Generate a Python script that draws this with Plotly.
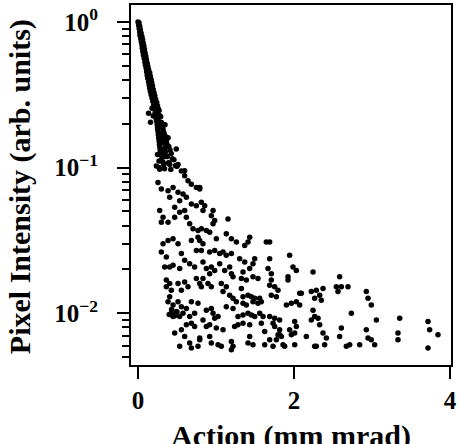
import plotly.graph_objects as go

# ---------------- data ----------------
# dense streak near the origin
streak_action = [0.000,0.012, 0.008,0.022, 0.015,0.030, 0.022,0.040, 0.025,0.050,
                 0.035,0.058, 0.042,0.066, 0.050,0.075, 0.055,0.082, 0.062,0.090,
                 0.070,0.100, 0.080,0.108, 0.088,0.118, 0.095,0.125, 0.105,0.135,
                 0.110,0.150,0.130, 0.118,0.158, 0.125,0.168,0.145, 0.135,0.175,
                 0.142,0.185,0.165, 0.150,0.195, 0.158,0.205,0.180, 0.168,0.215,
                 0.180,0.225,0.200, 0.190,0.240, 0.200,0.250,0.225, 0.210,0.260,
                 0.180,0.220,0.270,0.245, 0.225,0.280, 0.195,0.235,0.290,0.260,
                 0.240,0.300, 0.245,0.310,0.275, 0.250,0.320,0.285, 0.255,0.330,
                 0.260,0.345,0.300, 0.265,0.355,0.310, 0.270,0.365,0.320,
                 0.275,0.380,0.330, 0.280,0.340,0.395, 0.285,0.350,0.410,0.310,
                 0.250,0.300,0.425,0.360, 0.310,0.440,0.375, 0.270,0.320,0.460,0.390,
                 0.330,0.480,0.400, 0.270,0.340,0.500,0.420,
                 0.346,0.385,0.490,0.598,0.135,0.160]
streak_intensity = [1.0,0.985, 0.949,0.935, 0.90,0.885, 0.854,0.84, 0.81,0.795,
                    0.77,0.757, 0.73,0.72, 0.695,0.683, 0.66,0.65, 0.625,0.615,
                    0.59,0.58, 0.56,0.55, 0.53,0.52, 0.505,0.497, 0.48,0.472,
                    0.455,0.447,0.462, 0.43,0.423, 0.41,0.403,0.416, 0.39,0.383,
                    0.37,0.364,0.376, 0.35,0.344, 0.333,0.327,0.339, 0.316,0.311,
                    0.30,0.295,0.305, 0.285,0.280, 0.27,0.265,0.275, 0.256,0.252,
                    0.255,0.239,0.247,0.232, 0.231,0.227, 0.226,0.215,0.223,0.210,
                    0.208,0.204, 0.197,0.194,0.201, 0.187,0.184,0.190, 0.178,0.175,
                    0.169,0.166,0.172, 0.16,0.157,0.163, 0.152,0.15,0.155,
                    0.144,0.142,0.147, 0.137,0.135,0.139, 0.130,0.128,0.132,0.126,
                    0.123,0.121,0.125,0.119, 0.117,0.115,0.119, 0.111,0.109,0.113,0.108,
                    0.105,0.103,0.107, 0.100,0.098,0.102,0.097,
                    0.197,0.16,0.134,0.095,0.236,0.205]

# left part of the spread (action < 0.8)
left_action = [0.235,0.278,0.406,0.513,0.556,0.598,0.641,0.684,0.748,0.791,
               0.256,0.299,0.385,0.449,0.406,0.278,0.321,0.299,0.385,0.470,
               0.534,0.598,0.620,0.662,0.705,0.769,0.769,0.534,0.620,0.684,
               0.748,0.513,0.577,0.470,0.321,0.385,0.449,0.299,0.363,0.406,
               0.342,0.449,0.534,0.598,0.662,0.726,0.556,0.513,0.748,0.684,
               0.363,0.406,0.363,0.427,0.513,0.556,0.598,0.641,0.748,0.791,
               0.406,0.385,0.449,0.513,0.556,0.491,0.427,0.577,0.449,0.534,
               0.620,0.684,0.662,0.726,0.769,0.470,0.556,0.620,0.684,0.726,
               0.598,0.662,0.534,0.769,0.684,0.791,
               0.40,0.47,0.50,0.43]
left_intensity = [0.1026,0.0975,0.105,0.105,0.0949,0.0878,0.0811,0.0770,0.0731,0.0712,
                  0.0791,0.0712,0.0694,0.0731,0.0625,0.0507,0.0456,0.0422,0.0422,0.0456,
                  0.0494,0.0507,0.0456,0.0411,0.0380,0.0370,0.0333,0.0593,0.0625,0.0562,
                  0.0548,0.0676,0.0658,0.0534,0.0300,0.0316,0.0325,0.0263,0.0243,0.0208,
                  0.0208,0.0214,0.0203,0.0231,0.0219,0.0208,0.0257,0.0300,0.0270,0.0316,
                  0.0169,0.0160,0.0152,0.0144,0.0160,0.0144,0.0164,0.0152,0.0173,0.0160,
                  0.0130,0.0120,0.0114,0.0120,0.0111,0.0103,0.0100,0.0100,0.00949,0.00949,
                  0.0108,0.0120,0.00949,0.0100,0.0117,0.00731,0.00770,0.00833,0.00855,0.00811,
                  0.00694,0.00625,0.00593,0.00593,0.00578,0.00676,
                  0.0098,0.0096,0.0102,0.0106]

# middle part of the spread (0.8 < action < 2.3)
mid_action = [0.791,0.812,0.855,0.833,0.962,0.940,0.983,0.962,1.154,0.812,
              0.876,0.919,0.791,0.833,0.812,1.004,1.132,1.197,1.261,1.432,
              1.410,1.368,1.645,0.919,0.983,1.047,1.090,1.132,1.197,1.303,
              1.368,1.496,1.474,1.432,1.688,1.944,0.833,0.876,0.940,0.919,
              0.983,1.047,1.111,1.175,1.197,1.218,1.346,1.325,1.389,1.474,
              1.538,1.667,1.709,1.709,1.688,1.752,1.795,1.987,2.030,1.923,
              1.923,2.244,0.833,0.897,0.940,0.812,1.068,1.132,1.090,1.175,
              1.218,1.261,1.325,1.346,1.410,1.453,1.496,1.560,1.474,1.538,
              1.581,1.346,1.389,1.709,1.774,1.902,1.966,2.030,2.073,2.073,
              2.222,2.265,0.876,0.940,0.962,1.026,0.983,1.132,1.218,1.282,
              1.346,1.410,1.453,1.496,1.560,1.603,1.688,1.752,1.816,1.731,
              2.009,2.030,2.244,2.265,0.833,0.876,0.919,1.004,1.090,1.239,
              1.282,1.346,1.432,1.581,1.624,1.752,1.816,1.795,1.838,1.944,
              1.966,2.009,2.158,0.791,0.919,0.940,1.026,1.068,1.197,1.218,
              1.197,1.410,1.432,1.474,1.624,1.688,1.731,1.880,2.009,2.265]
mid_intensity = [0.0731,0.0578,0.0548,0.0507,0.0507,0.0468,0.0433,0.0411,0.0444,0.0380,
                 0.0370,0.0360,0.0316,0.0300,0.0270,0.0325,0.0351,0.0325,0.0308,0.0333,
                 0.0308,0.0292,0.0308,0.0263,0.0270,0.0257,0.0263,0.0250,0.0257,0.0237,
                 0.0225,0.0237,0.0219,0.0203,0.0237,0.0250,0.0225,0.0203,0.0208,0.0187,
                 0.0197,0.0219,0.0197,0.0208,0.0187,0.0178,0.0192,0.0173,0.0169,0.0178,
                 0.0173,0.0203,0.0187,0.0169,0.0156,0.0152,0.0144,0.0208,0.0197,0.0178,
                 0.0169,0.0192,0.0173,0.0160,0.0152,0.0152,0.0160,0.0152,0.0141,0.0133,
                 0.0127,0.0120,0.0148,0.0130,0.0133,0.0130,0.0127,0.0127,0.0120,0.0117,
                 0.0120,0.0117,0.0114,0.0133,0.0130,0.0114,0.0117,0.0120,0.0114,0.0137,
                 0.0141,0.0127,0.0105,0.0108,0.0100,0.00949,0.00925,0.0111,0.0108,0.00949,
                 0.00975,0.0100,0.00975,0.00949,0.0100,0.00949,0.00949,0.00925,0.00901,0.00855,
                 0.00878,0.00811,0.0105,0.00949,0.00901,0.00811,0.00833,0.00791,0.00770,0.00811,
                 0.00833,0.00855,0.00833,0.00855,0.00750,0.00811,0.00770,0.00712,0.00694,0.00770,
                 0.00712,0.00731,0.00694,0.00658,0.00694,0.00625,0.00609,0.00593,0.00641,0.00593,
                 0.00562,0.00625,0.00694,0.00609,0.00609,0.00658,0.00593,0.00593,0.00609,0.00593]

# right tail (action > 1.6)
right_action = [2.585,2.543,2.607,2.692,2.564,2.927,2.949,2.991,2.372,2.329,
                2.350,2.286,2.735,3.056,3.355,3.718,3.739,3.846,2.308,2.329,
                2.372,2.415,2.393,2.607,2.585,2.927,2.949,2.991,3.333,3.333,
                2.286,2.671,2.714,2.842,3.034,3.718,2.222,1.774,1.816,1.859,
                2.094,1.688]
right_intensity = [0.0178,0.0152,0.0152,0.0152,0.0141,0.0141,0.0127,0.0114,0.0148,0.0133,
                   0.0123,0.0144,0.0100,0.00901,0.00925,0.00878,0.00770,0.00712,0.00925,0.00833,
                   0.00731,0.00676,0.00609,0.00791,0.00694,0.00770,0.00676,0.00658,0.00731,0.00658,
                   0.00593,0.00593,0.00609,0.00609,0.00609,0.00578,0.00901,0.00658,0.00712,0.00609,
                   0.0137,0.0308]

x_tickvals = [0, 2, 4]
x_ticktext = ["0", "2", "4"]
y_tickvals = [1, 0.1, 0.01]
y_ticktext = ["10<sup>0</sup>", "10<sup>\u22121</sup>", "10<sup>\u22122</sup>"]
y_minor = [m * d for d in (0.001, 0.01, 0.1) for m in range(2, 10)]

x_title = "Action (mm mrad)"
y_title = "Pixel Intensity (arb. units)"

# ---------------- figure ----------------
action = streak_action + left_action + mid_action + right_action
intensity = streak_intensity + left_intensity + mid_intensity + right_intensity
n = min(len(action), len(intensity))

FONT = "Liberation Serif"

fig = go.Figure()
fig.add_trace(go.Scatter(
    x=action[:n], y=intensity[:n], mode="markers",
    marker=dict(color="black", size=5.5, symbol="circle", line=dict(width=0)),
    showlegend=False, hoverinfo="skip"))

fig.update_layout(
    width=460, height=444,
    margin=dict(l=131, r=9, t=3, b=79),
    plot_bgcolor="white", paper_bgcolor="white",
    font=dict(family=FONT, color="black"),
    showlegend=False,
)

fig.update_xaxes(
    range=[-0.09, 4.013],
    tickmode="array", tickvals=x_tickvals, ticktext=x_ticktext,
    ticks="outside", ticklen=12, tickwidth=2, tickcolor="black",
    showline=True, linewidth=2, linecolor="black", mirror=True,
    showgrid=False, zeroline=False,
    tickfont=dict(family=FONT, size=25, color="black", weight="bold"),
)
fig.update_yaxes(
    type="log", range=[-2.355, 0.116],
    tickmode="array", tickvals=y_tickvals, ticktext=y_ticktext,
    ticks="outside", ticklen=12, tickwidth=2, tickcolor="black",
    ticklabelstandoff=14,
    minor=dict(tickmode="array", tickvals=y_minor, ticks="outside",
               ticklen=7, tickwidth=1.5, tickcolor="black", showgrid=False),
    showline=True, linewidth=2, linecolor="black", mirror=True,
    showgrid=False, zeroline=False,
    tickfont=dict(family=FONT, size=25, color="black", weight="bold"),
)

fig.add_annotation(
    text=x_title, xref="paper", yref="paper", x=0.5, y=0,
    xanchor="center", yanchor="top", yshift=-52, showarrow=False,
    font=dict(family=FONT, size=30, color="black", weight="bold"))
fig.add_annotation(
    text=y_title, xref="paper", yref="paper", x=0, y=0.494,
    xanchor="center", yanchor="middle", xshift=-111, textangle=-90,
    showarrow=False,
    font=dict(family=FONT, size=30, color="black", weight="bold"))

fig.write_html("out.html")
